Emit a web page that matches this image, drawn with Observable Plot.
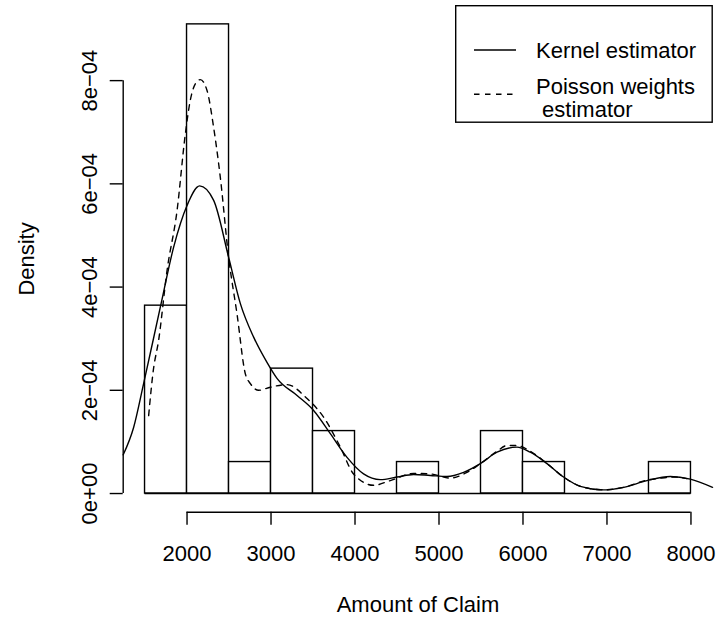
<!DOCTYPE html>
<html>
<head>
<meta charset="utf-8">
<script src="https://cdn.jsdelivr.net/npm/d3@7"></script>
<script src="https://cdn.jsdelivr.net/npm/@observablehq/plot@0.6"></script>
<style>
  body { margin: 0; background: #fff; }
  #wrap { position: relative; width: 720px; height: 622px; font-family: "Liberation Sans", Arial, sans-serif; }
  #legend { position: absolute; left: 455px; top: 5px; }
</style>
</head>
<body>
<div id="wrap"></div>
<script>
// Histogram (bin edges and densities)
const binEdges = [1500, 2000, 2500, 3000, 3500, 4000, 4500, 5000, 5500, 6000, 6500, 7000, 7500, 8000];
const binDensity = [3.64e-4, 9.09e-4, 0.61e-4, 2.42e-4, 1.21e-4, 0, 0.61e-4, 0, 1.21e-4, 0.61e-4, 0, 0, 0.61e-4];

// Kernel estimator curve
const kernelX = [1240, 1364, 1483, 1682, 1840, 2000, 2150, 2317, 2495, 2635, 2793, 2952, 3071, 3310, 3507, 3706, 3905, 4102, 4301, 4500, 4698, 4897, 5095, 5293, 5492, 5691, 5929, 6087, 6286, 6483, 6682, 6960, 7198, 7476, 7754, 7992, 8257];
const kernelY = [0.75, 1.28, 2.13, 3.61, 4.77, 5.58, 5.96, 5.68, 4.58, 3.68, 3.03, 2.54, 2.23, 1.90, 1.61, 1.16, 0.70, 0.38, 0.27, 0.32, 0.37, 0.35, 0.33, 0.41, 0.58, 0.80, 0.90, 0.80, 0.58, 0.32, 0.14, 0.07, 0.12, 0.25, 0.33, 0.28, 0.12].map(v => v * 1e-4);

// Poisson weights estimator curve
const poissonX = [1543, 1598, 1662, 1762, 1881, 1980, 2039, 2099, 2158, 2238, 2317, 2396, 2495, 2595, 2694, 2754, 2852, 2992, 3190, 3429, 3626, 3825, 3983, 4221, 4420, 4698, 4897, 5134, 5333, 5492, 5691, 5810, 5929, 6087, 6286, 6483, 6682, 6960, 7198, 7476, 7643, 7802, 7950];
const poissonY = [1.51, 2.38, 2.97, 4.32, 5.48, 6.97, 7.62, 7.94, 8.02, 7.81, 7.09, 6.13, 4.58, 3.48, 2.32, 2.13, 2.00, 2.06, 2.11, 1.84, 1.48, 0.90, 0.38, 0.16, 0.25, 0.39, 0.38, 0.30, 0.41, 0.58, 0.82, 0.93, 0.93, 0.82, 0.58, 0.32, 0.14, 0.07, 0.12, 0.26, 0.30, 0.32, 0.29].map(v => v * 1e-4);

// Ticks
const xTicks = [2000, 3000, 4000, 5000, 6000, 7000, 8000];
const yTicks = [0, 2e-4, 4e-4, 6e-4, 8e-4];
const yTickLabels = ["0e+00", "2e\u221204", "4e\u221204", "6e\u221204", "8e\u221204"];

// Text
const xLabel = "Amount of Claim";
const yLabel = "Density";
const legendLabels = ["Kernel estimator", "Poisson weights", " estimator"];

// Build tables
const bins = binDensity.map((d, i) => ({x1: binEdges[i], x2: binEdges[i + 1], y: d}));
const kernel = kernelX.map((x, i) => ({x, y: kernelY[i]}));
const poisson = poissonX.map((x, i) => ({x, y: poissonY[i]}));

// R-style 4% axis extension
const ext = ([a, b]) => [a - 0.04 * (b - a), b + 0.04 * (b - a)];
const xDomain = ext([binEdges[0], binEdges[binEdges.length - 1]]);
const yDomain = ext([0, d3.max(binDensity)]);

const SW = 1.4;
const FS = 22;

const chart = Plot.plot({
  width: 720,
  height: 622,
  marginLeft: 122.7,
  marginRight: 7.7,
  marginTop: 5.1,
  marginBottom: 110.2,
  x: {domain: xDomain},
  y: {domain: yDomain},
  style: {fontFamily: '"Liberation Sans", Arial, sans-serif', fontSize: FS + "px", color: "black", background: "white", overflow: "visible"},
  marks: [
    Plot.rect(bins.filter(d => d.y > 0), {x1: "x1", x2: "x2", y1: 0, y2: "y", fill: "white", stroke: "black", strokeWidth: SW}),
    Plot.ruleY([0], {x1: binEdges[0], x2: binEdges[binEdges.length - 1], stroke: "black", strokeWidth: SW}),
    Plot.line(kernel, {x: "x", y: "y", curve: "monotone-x", stroke: "black", strokeWidth: SW}),
    Plot.line(poisson, {x: "x", y: "y", curve: "monotone-x", stroke: "black", strokeWidth: SW, strokeDasharray: "5.5,5.5"}),
    // axis lines
    Plot.ruleX([xDomain[0]], {y1: yTicks[0], y2: yTicks[yTicks.length - 1], stroke: "black", strokeWidth: SW}),
    Plot.ruleY([yDomain[0]], {x1: xTicks[0], x2: xTicks[xTicks.length - 1], stroke: "black", strokeWidth: SW}),
    Plot.axisX({ticks: xTicks, tickSize: 13, tickPadding: 20, fontSize: FS, tickFormat: d => String(d), label: null, strokeWidth: SW}),
    Plot.axisY({ticks: yTicks, tickSize: 13, tickPadding: 13, tickRotate: -90, fontSize: FS, tickFormat: d => yTickLabels[yTicks.indexOf(d)], label: null, strokeWidth: SW}),
    Plot.text([yLabel], {frameAnchor: "left", dx: -89.7, rotate: -90, lineAnchor: "bottom", textAnchor: "middle", fontSize: FS, fill: "black"}),
    Plot.text([xLabel], {frameAnchor: "bottom", dy: 100, lineAnchor: "bottom", textAnchor: "middle", fontSize: FS, fill: "black"})
  ]
});

const wrap = document.getElementById("wrap");
wrap.appendChild(chart);

// Legend (top-right inside plot region)
const ns = "http://www.w3.org/2000/svg";
const lg = document.createElementNS(ns, "svg");
lg.setAttribute("id", "legend");
lg.setAttribute("width", 258);
lg.setAttribute("height", 118);
lg.setAttribute("font-family", '"Liberation Sans", Arial, sans-serif');
lg.setAttribute("font-size", FS);
lg.innerHTML = `
  <rect x="0.7" y="0.7" width="256.5" height="116.5" fill="white" stroke="black" stroke-width="${SW}"/>
  <line x1="19" x2="61" y1="45" y2="45" stroke="black" stroke-width="${SW}"/>
  <line x1="19" x2="61" y1="89.3" y2="89.3" stroke="black" stroke-width="${SW}" stroke-dasharray="5.5,5.5"/>
  <text x="81" y="53">${legendLabels[0]}</text>
  <text x="81" y="88.5">${legendLabels[1]}</text>
  <text x="81" y="112" xml:space="preserve" style="white-space:pre">${legendLabels[2]}</text>
`;
wrap.appendChild(lg);
</script>
</body>
</html>
